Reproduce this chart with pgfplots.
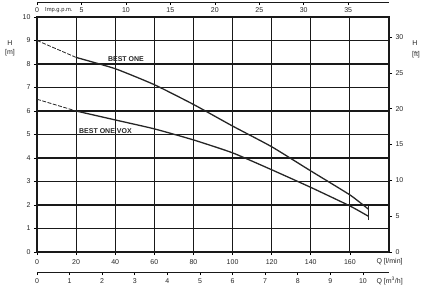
\documentclass[border=0pt]{standalone}
\usepackage{pgfplots}
\pgfplotsset{compat=1.18}
\usepackage{fontspec}
\setmainfont{Liberation Sans}
\begin{document}
\begin{tikzpicture}[font=\fontsize{7}{8}\selectfont]
\path[use as bounding box] (-37pt,-35pt) rectangle (393pt,252pt);
\pgfplotsset{
  every axis/.append style={
    scale only axis, width=352pt,
    /pgf/number format/assume math mode=true,
    tick label style={font=\fontsize{7}{8}\selectfont, text=black!85},
    tick align=outside, major tick length=3pt,
    tick style={black, line width=0.6pt},
  }
}
% main axis (H in m, Q in l/min)
\begin{axis}[
  at={(0pt,0pt)}, anchor=south west, height=235pt,
  xmin=0, xmax=180, ymin=0, ymax=10,
  xtick={0,20,...,160}, ytick={0,1,...,10},
  tick pos=left,
  grid=major, major grid style={black!90, line width=1.1pt},
  axis line style={black!90, line width=1.1pt},
  xticklabel style={yshift=-1pt},
]
% BEST ONE
\addplot[black!85, line width=0.8pt, dash pattern=on 4pt off 1.5pt] coordinates {(0,9.0) (20,8.28)};
\addplot[black!85, line width=1.3pt, smooth, tension=0.3] coordinates {
 (20,8.28) (40,7.80) (60,7.12) (80,6.28) (100,5.36) (120,4.48) (140,3.45) (160,2.43) (169.5,1.82)};
\addplot[black!85, line width=1.0pt] coordinates {(169.5,1.66) (169.5,1.94)};
% BEST ONE VOX
\addplot[black!85, line width=0.8pt, dash pattern=on 4pt off 1.5pt] coordinates {(0,6.5) (20,6.0)};
\addplot[black!85, line width=1.3pt, smooth, tension=0.3] coordinates {
 (20,6.0) (40,5.62) (60,5.24) (80,4.77) (100,4.22) (120,3.50) (140,2.75) (160,1.96) (169.5,1.52)};
\addplot[black!85, line width=1.0pt] coordinates {(169.5,1.36) (169.5,1.66)};
\node[font=\fontsize{7}{8}\selectfont\bfseries, text=black!85] at (axis cs:45.5,8.2) {BEST ONE};
\node[font=\fontsize{7}{8}\selectfont\bfseries, text=black!85] at (axis cs:35,5.15) {BEST ONE VOX};
\end{axis}
% right axis (H in ft)
\begin{axis}[
  at={(0pt,0pt)}, anchor=south west, height=235pt,
  xmin=0, xmax=180, ymin=0, ymax=32.808,
  hide x axis, axis y line*=right,
  ytick={0,5,...,30},
  axis line style={-, black!90, line width=1.1pt},
]
\end{axis}
% top axis (Imp. g.p.m.)
\begin{axis}[
  at={(0pt,250pt)}, anchor=south west, height=5pt,
  xmin=0, xmax=39.595, ymin=0, ymax=1,
  hide y axis, axis x line*=bottom,
  xtick={0,5,...,35}, xticklabel style={yshift=1pt},
  axis line style={-, black!90, line width=0.8pt},
]
\end{axis}
% bottom axis (m3/h)
\begin{axis}[
  at={(0pt,-20pt)}, anchor=south west, height=5pt,
  xmin=0, xmax=10.8, ymin=0, ymax=1,
  hide y axis, axis x line*=bottom,
  xtick={0,1,...,10},
  axis line style={-, black!90, line width=0.8pt},
]
\end{axis}
% unit labels
\node[anchor=west, text=black!85, font=\fontsize{5.8}{7}\selectfont, inner sep=1pt] at (7pt,242pt) {Imp.g.p.m.};
\node[text=black!85] at (-27pt,209pt) {H};
\node[text=black!85] at (-27pt,199pt) {[m]};
\node[text=black!85] at (378pt,209pt) {H};
\node[text=black!85] at (379pt,197pt) {[ft]};
\node[anchor=west, text=black!85] at (336pt,-10pt) {Q [l/min]};
\node[anchor=west, text=black!85] at (336pt,-29pt) {Q [m\textsuperscript{3}/h]};
\end{tikzpicture}
\end{document}
